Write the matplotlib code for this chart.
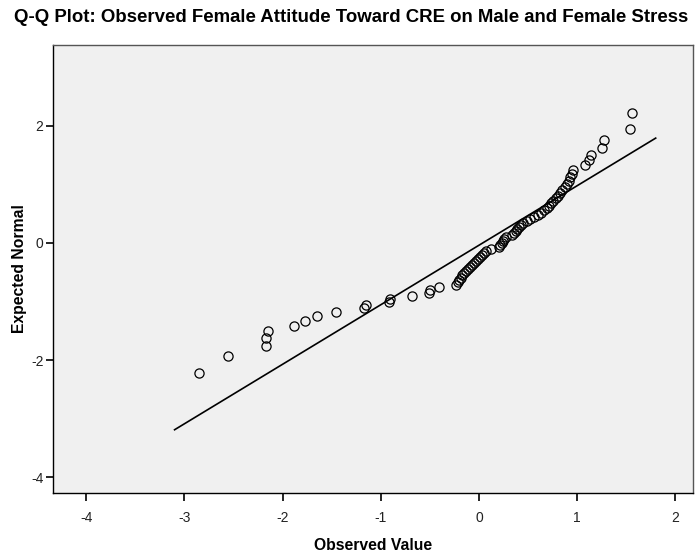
import matplotlib
matplotlib.use("Agg")
import matplotlib.pyplot as plt

# Observed (standardized) values, sorted
observed = [
    -2.848, -2.553, -2.169, -2.166, -2.146, -1.884, -1.769, -1.653, -1.456, -1.168,
    -1.154, -0.913, -0.906, -0.682, -0.512, -0.499, -0.404, -0.234, -0.214, -0.199,
    -0.183, -0.168, -0.153, -0.132, -0.112, -0.092, -0.071, -0.051, -0.031, -0.010,
    0.010, 0.031, 0.051, 0.071, 0.122, 0.204, 0.219, 0.234, 0.244, 0.255,
    0.275, 0.336, 0.356, 0.377, 0.392, 0.407, 0.428, 0.448, 0.489, 0.519,
    0.560, 0.601, 0.631, 0.662, 0.692, 0.713, 0.733, 0.759, 0.784, 0.804,
    0.825, 0.845, 0.876, 0.896, 0.916, 0.932, 0.947, 0.960, 1.076, 1.120,
    1.144, 1.253, 1.270, 1.535, 1.561,
]

# Expected normal scores
expected = [
    -2.220, -1.938, -1.757, -1.620, -1.508, -1.412, -1.327, -1.252, -1.183, -1.119,
    -1.059, -1.003, -0.950, -0.899, -0.851, -0.805, -0.760, -0.716, -0.674, -0.634,
    -0.594, -0.555, -0.517, -0.480, -0.443, -0.407, -0.371, -0.336, -0.301, -0.266,
    -0.232, -0.199, -0.166, -0.132, -0.099, -0.066, -0.033, 0.000, 0.033, 0.066,
    0.099, 0.132, 0.166, 0.199, 0.232, 0.266, 0.301, 0.336, 0.371, 0.407,
    0.443, 0.480, 0.517, 0.555, 0.594, 0.634, 0.674, 0.716, 0.760, 0.805,
    0.851, 0.899, 0.950, 1.003, 1.059, 1.119, 1.183, 1.252, 1.327, 1.412,
    1.508, 1.620, 1.757, 1.938, 2.220,
]

# Reference line endpoints
ref_x = [-3.10, 1.80]
ref_y = [-3.19, 1.79]

x_ticks = [-4, -3, -2, -1, 0, 1, 2]
y_ticks = [-4, -2, 0, 2]

title = "Q-Q Plot: Observed Female Attitude Toward CRE on Male and Female Stress"
x_label = "Observed Value"
y_label = "Expected Normal"

plt.rcParams['font.family'] = ['Liberation Sans', 'DejaVu Sans']
plt.rcParams['axes.unicode_minus'] = False

W, H = 698, 555
fig = plt.figure(figsize=(W / 100, H / 100), dpi=100)
fig.patch.set_facecolor('white')

left, right, top, bottom = 53.3, 693, 45, 493
ax = fig.add_axes([left / W, 1 - bottom / H, (right - left) / W, (bottom - top) / H])
ax.set_facecolor('#f0f0f0')

ax.plot(ref_x, ref_y, color='black', lw=1.2, zorder=2)
ax.plot(observed, expected, linestyle='none', marker='o', markersize=6.6,
        markerfacecolor='none', markeredgecolor='black', markeredgewidth=0.9, zorder=3)

ax.set_xlim(-4.335, 2.18)
ax.set_ylim(-4.27, 3.38)
ax.set_xticks(x_ticks)
ax.set_yticks(y_ticks)
ax.tick_params(direction='out', width=1.2, color='black',
               labelsize=10, labelcolor='#222222')
ax.tick_params(axis='x', length=6, pad=7)
ax.tick_params(axis='y', length=5, pad=2)

for s in ax.spines.values():
    s.set_color('black')
    s.set_linewidth(1.0)
ax.spines['top'].set_color('#555555')
ax.spines['right'].set_color('#555555')

fig.text((left + right) / 2 / W, 1 - 545 / H, x_label, ha='center', va='center',
         fontsize=11.3, fontweight='bold')
fig.text(20 / W, 1 - (top + bottom) / 2 / H, y_label, ha='center', va='center',
         rotation=90, fontsize=11.3, fontweight='bold')

fig.text(351 / W, 1 - 18 / H, title, ha='center', va='center',
         fontsize=13.4, fontweight='bold')

fig.savefig('out.png', dpi=100)
